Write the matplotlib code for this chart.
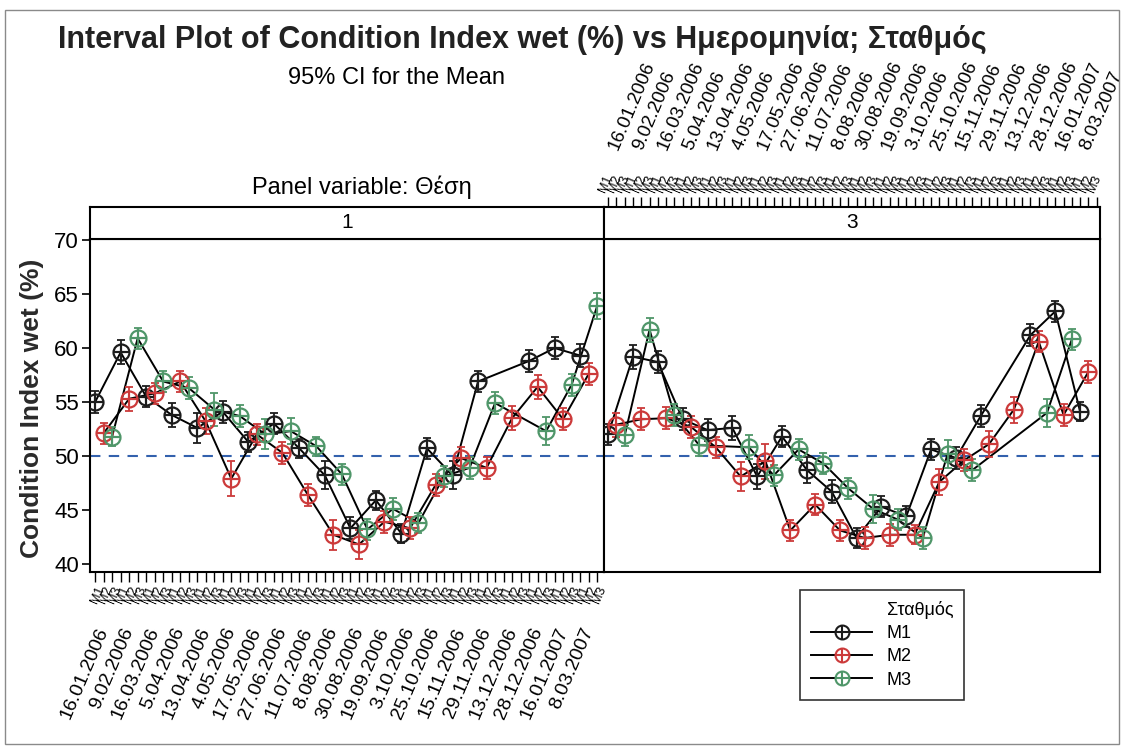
import numpy as np
import matplotlib
matplotlib.use("Agg")
import matplotlib.pyplot as plt
from matplotlib.transforms import blended_transform_factory
from matplotlib.lines import Line2D
from matplotlib.patches import Rectangle

plt.rcParams['font.family'] = ['Liberation Sans', 'DejaVu Sans']

nan = np.nan

dates = ["16.01.2006", "9.02.2006", "16.03.2006", "5.04.2006", "13.04.2006",
         "4.05.2006", "17.05.2006", "27.06.2006", "11.07.2006", "8.08.2006",
         "30.08.2006", "19.09.2006", "3.10.2006", "25.10.2006", "15.11.2006",
         "29.11.2006", "13.12.2006", "28.12.2006", "16.01.2007", "8.03.2007"]
stations = ["M1", "M2", "M3"]
panels = ["1", "3"]

# means, Θέση 1
p1_m1 = [55.0, 59.6, 55.5, 53.8, 52.6, 54.1, 51.3, 53.0, 50.7, 48.2,
         43.3, 45.9, 42.8, 50.7, 48.2, 56.9, nan, 58.8, 60.0, 59.3]
p1_m2 = [52.1, 55.3, 55.8, 56.9, 53.2, 47.9, 52.0, 50.3, 46.4, 42.7,
         41.8, 43.9, 43.3, 47.3, 49.8, 48.9, 53.5, 56.4, 53.4, 57.6]
p1_m3 = [51.8, 60.9, 56.9, 56.3, 54.3, 53.7, 52.0, 52.3, 50.9, 48.3,
         43.2, 45.1, 43.8, 48.1, 48.9, 54.9, nan, 52.3, 56.6, 63.9]

# means, Θέση 3
p3_m1 = [52.0, 59.2, 58.7, 53.4, 52.4, 52.6, 48.1, 51.8, 48.7, 46.7,
         42.4, 45.3, 44.4, 50.6, 49.8, 53.7, nan, 61.2, 63.4, 54.1]
p3_m2 = [52.9, 53.4, 53.5, 52.7, 50.8, 48.1, 49.5, 43.1, 45.5, 43.1,
         42.4, 42.7, 42.7, 47.6, 49.6, 51.1, 54.3, 60.6, 53.8, 57.8]
p3_m3 = [51.9, 61.7, 53.8, 51.0, nan, 50.8, 48.2, 50.6, 49.3, 47.0,
         45.1, 44.1, 42.4, 50.2, 48.7, nan, nan, 54.0, 60.8, nan]

# 95% CI half widths
p1_ci1 = [1.0, 1.1, 1.0, 1.1, 1.4, 1.0, 0.9, 1.0, 0.9, 1.3,
          1.0, 0.9, 0.9, 1.0, 1.3, 1.0, nan, 1.0, 1.0, 1.1]
p1_ci2 = [1.0, 1.1, 1.0, 1.0, 1.2, 1.6, 1.0, 1.0, 1.0, 1.4,
          1.3, 1.0, 1.0, 1.0, 1.0, 1.0, 1.1, 1.1, 1.0, 1.0]
p1_ci3 = [0.9, 1.0, 1.0, 1.0, 1.5, 1.0, 1.4, 1.2, 0.9, 1.0,
          1.0, 1.0, 0.9, 1.0, 1.0, 1.0, nan, 1.3, 1.0, 1.2]
p3_ci1 = [1.0, 1.1, 1.0, 1.0, 1.0, 1.1, 1.2, 1.0, 1.2, 1.1,
          0.9, 1.0, 1.0, 1.0, 1.0, 1.0, nan, 1.0, 1.0, 0.9]
p3_ci2 = [1.1, 1.0, 1.0, 1.0, 1.0, 1.3, 1.6, 1.0, 1.0, 1.0,
          1.0, 1.0, 0.9, 1.2, 1.0, 1.2, 1.2, 1.0, 1.0, 1.0]
p3_ci3 = [1.0, 1.1, 1.0, 1.0, nan, 1.1, 1.0, 1.0, 1.0, 1.0,
          1.3, 1.0, 1.0, 1.3, 1.0, nan, nan, 1.3, 1.0, nan]

means = {"1": [p1_m1, p1_m2, p1_m3], "3": [p3_m1, p3_m2, p3_m3]}
cis = {"1": [p1_ci1, p1_ci2, p1_ci3], "3": [p3_ci1, p3_ci2, p3_ci3]}

colors = {"M1": "#1c1c1c", "M2": "#cc3a3a", "M3": "#4f9669"}

W, H = 1124, 746
fig = plt.figure(figsize=(W / 100, H / 100), dpi=100)


def fx(px):
    return px / W


def fy(py):
    return 1 - py / H


ax_top, ax_bot = 239, 572
strip_top = 207
ax1 = fig.add_axes([fx(90), fy(ax_bot), fx(604 - 90), (ax_bot - ax_top) / H])
ax2 = fig.add_axes([fx(604), fy(ax_bot), fx(1100 - 604), (ax_bot - ax_top) / H])
s1 = fig.add_axes([fx(90), fy(ax_top), fx(604 - 90), (ax_top - strip_top) / H])
s2 = fig.add_axes([fx(604), fy(ax_top), fx(1100 - 604), (ax_top - strip_top) / H])

n = len(dates) * len(stations)


def draw_panel(ax, key):
    for j, st in enumerate(stations):
        x = np.arange(len(dates)) * 3 + j
        y = np.array(means[key][j], dtype=float)
        e = np.array(cis[key][j], dtype=float)
        ok = ~np.isnan(y)
        ax.plot(x[ok], y[ok], color='black', lw=1.4, zorder=2)
        ax.errorbar(x[ok], y[ok], yerr=e[ok], fmt='none', ecolor=colors[st],
                    elinewidth=1.3, capsize=3, capthick=1.3, zorder=3)
        ax.plot(x[ok], y[ok], 'o', ms=11.5, mfc='none', mec=colors[st], mew=1.6, zorder=4)
        ax.plot(x[ok], y[ok], '+', ms=11.5, mec=colors[st], mew=1.6, zorder=4)
    ax.axhline(50, color='#3361ad', lw=1.5, ls=(0, (5, 4)), zorder=1)
    ax.set_ylim(39.25, 70.1)
    for sp in ax.spines.values():
        sp.set_linewidth(1.5)


draw_panel(ax1, "1")
draw_panel(ax2, "3")
ax1.set_xlim(-0.6, n - 0.2)
ax2.set_xlim(-0.5, n - 0.6)

ax1.set_yticks([40, 45, 50, 55, 60, 65, 70])
ax1.tick_params(axis='y', labelsize=16, length=6, width=1.2, direction='out', pad=2)
ax2.set_yticks([])

station_labels = stations * len(dates)
ax1.set_xticks(np.arange(n))
ax1.set_xticklabels(station_labels, rotation=67, ha='right', rotation_mode='anchor', fontsize=9)
ax1.tick_params(axis='x', length=7, width=1.0, pad=2)
ax2.set_xticks([])

# strips
for s, key in [(s1, "1"), (s2, "3")]:
    s.set_yticks([])
    s.text(0.5, 0.5, key, transform=s.transAxes, ha='center', va='center', fontsize=15)
    for sp in s.spines.values():
        sp.set_linewidth(1.5)
s1.set_xticks([])
s2.set_xlim(ax2.get_xlim())
s2.xaxis.tick_top()
s2.set_xticks(np.arange(n))
s2.set_xticklabels(station_labels, rotation=67, ha='left', rotation_mode='anchor', fontsize=9)
s2.tick_params(axis='x', length=7, width=1.0, pad=2)

# date labels
centers = np.arange(len(dates)) * 3 + 1
tr1 = blended_transform_factory(ax1.transData, ax1.transAxes)
tr2 = blended_transform_factory(ax2.transData, ax2.transAxes)
for c, d in zip(centers, dates):
    ax1.text(c, -0.17, d, transform=tr1, rotation=67, ha='right', va='center',
             rotation_mode='anchor', fontsize=14)
    ax2.text(c - 0.4, 1.27, d, transform=tr2, rotation=67, ha='left', va='center',
             rotation_mode='anchor', fontsize=13.5, clip_on=False)

# texts
fig.text(fx(522), fy(40), "Interval Plot of Condition Index wet (%) vs Ημερομηνία; Σταθμός",
         ha='center', va='center', fontsize=22, fontweight='bold', color='#222222')
fig.text(fx(396), fy(78), "95% CI for the Mean", ha='center', va='center', fontsize=17)
fig.text(fx(362), fy(187), "Panel variable: Θέση", ha='center', va='center', fontsize=17)
fig.text(fx(32), fy(408), "Condition Index wet (%)", ha='center', va='center',
         rotation=90, fontsize=19, fontweight='bold', color='#2a2a2a')

# legend
handles = [Line2D([], [], color='none')]
labels = ["Σταθμός"]
for st in stations:
    h = (Line2D([], [], color='black', lw=1.4),
         Line2D([], [], ls='none', marker='o', ms=10, mfc='none', mec=colors[st], mew=1.5),
         Line2D([], [], ls='none', marker='+', ms=10, mec=colors[st], mew=1.5))
    handles.append(h)
    labels.append(st)
leg = fig.legend(handles, labels, loc='upper left', bbox_to_anchor=(fx(800), fy(590)),
                 fontsize=13, frameon=True, fancybox=False, edgecolor='black',
                 handlelength=3.4, labelspacing=0.35, borderpad=0.6, handletextpad=0.8,
                 borderaxespad=0)
leg.get_frame().set_linewidth(1.2)

fig.patches.append(Rectangle((fx(5), fy(744)), fx(1119 - 5), (744 - 10) / H,
                             transform=fig.transFigure, fill=False, ec='#8a8a8a', lw=1))

fig.savefig("out.png", dpi=100)
